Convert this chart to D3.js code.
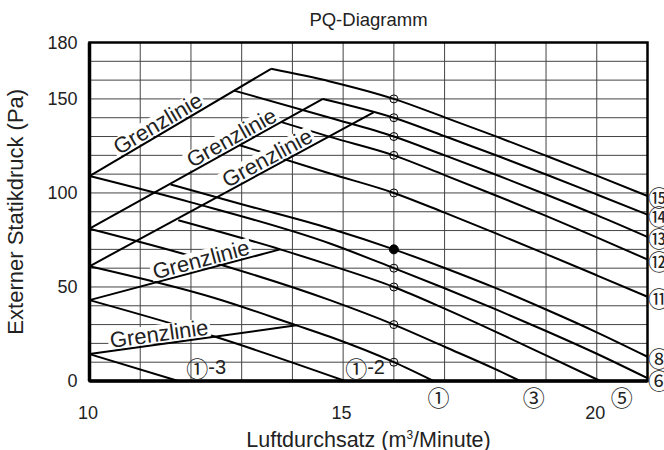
<!DOCTYPE html>
<html>
<head>
<meta charset="utf-8">
<script src="https://cdn.jsdelivr.net/npm/d3@7"></script>
<style>
    body { margin: 0; background: #fff; }
    text { font-family: "Liberation Sans", Arial, sans-serif; fill: #222; }
    .circ { font-family: "Noto Sans CJK JP", "DejaVu Sans", sans-serif; }
</style>
</head>
<body>
<div id="chart"></div>
<script>
// x = Luftdurchsatz (m3/Minute), y = Externer Statikdruck (Pa)
const xTicks = [10, 15, 20];
const yTicks = [0, 50, 100, 150, 180];

// Grenzlinien (ascending limit lines)
const limitLines = [
    [[10, 109], [13.58, 166]],
    [[10, 81], [14.6, 150]],
    [[10, 61], [15.6, 142.9]],
    [[10, 43], [13.76, 70]],
    [[10, 14.3], [14.08, 29.6]]
];
// where the "Grenzlinie" text sits along each line (x value)
const limitLabelX = [11.45, 12.9, 13.6, 12.25, 11.4];

// fan curves (tap settings)
const curveNames = ["⑮", "⑭", "⑬", "⑫", "⑪", "⑧", "⑥", "⑤", "③", "①", "①-2", "①-3"];
const curvePoints = [
    [[13.58, 166], [14.74, 159.3], [16, 150], [17, 140.2], [18, 130.2], [19, 119.8], [20, 109.2], [21, 98.4]],
    [[14.6, 150], [16, 140], [17, 130.2], [18, 120.2], [19, 109.8], [20, 99.2], [21, 88.5]],
    [[12.85, 154.4], [14.74, 140], [16, 130], [17, 120], [18, 109.8], [19, 99.2], [20, 88.2], [21, 76.6]],
    [[13.78, 137.7], [14.74, 129.8], [16, 120], [17, 109.5], [18, 98.8], [19, 87.8], [20, 76.4], [21, 64.6]],
    [[12.96, 125.4], [14.74, 110.3], [16, 100], [17, 89.5], [18, 78.6], [19, 67.5], [20, 56.2], [21, 44.8]],
    [[11.6, 104.5], [13, 94], [14.74, 81.1], [16, 70], [17, 60.1], [18, 49.5], [19, 38], [20, 25.9], [21, 12.9]],
    [[10, 109], [12, 95], [14.74, 73.1], [16, 60], [17, 49.3], [18, 38.2], [19, 26.6], [20, 14.5], [21, 1.5]],
    [[11.75, 85.5], [13.76, 70], [14.74, 61.6], [16, 50], [17, 38.5], [18, 26.3], [19, 13.6], [20.07, 0]],
    [[10, 81], [12, 66.5], [14.74, 43], [16, 30], [17, 18.2], [18, 6.3], [18.49, 0]],
    [[10, 61], [12.48, 44], [14.08, 29.6], [14.74, 23.5], [16, 10], [16.78, 0]],
    [[10, 43], [12.48, 23.5], [15.04, 0]],
    [[10, 14.3], [11.75, 0]]
];
// which side the curve label goes: right edge, below axis, or inside near the axis
const curveLabelSide = ["right", "right", "right", "right", "right", "right", "right", "bottom", "bottom", "bottom", "inside", "inside"];

// measuring points at 16 m3/min
const markerX = 16;
const markerPa = [150, 140, 130, 120, 100, 70, 60, 50, 30, 10];
const ratedPa = 70;

const margin = {top: 42.5, right: 16.5, bottom: 69, left: 89.5};
const W = 664, H = 450;
const width = W - margin.left - margin.right;
const height = H - margin.top - margin.bottom;

const svg = d3.select("#chart").append("svg")
    .attr("width", W)
    .attr("height", H);

const g = svg.append("g")
    .attr("transform", `translate(${margin.left},${margin.top})`);

const x = d3.scaleLinear().domain([10, 21]).range([0, width]);
const y = d3.scaleLinear().domain([0, 180]).range([height, 0]);

// grid
g.append("g")
    .selectAll("line")
    .data(d3.range(11, 21))
    .join("line")
    .attr("x1", d => x(d)).attr("x2", d => x(d))
    .attr("y1", 0).attr("y2", height)
    .attr("stroke", "#444").attr("stroke-width", 1);

g.append("g")
    .selectAll("line")
    .data(d3.range(10, 180, 10))
    .join("line")
    .attr("x1", 0).attr("x2", width)
    .attr("y1", d => y(d)).attr("y2", d => y(d))
    .attr("stroke", "#444").attr("stroke-width", 1);

const line = d3.line().x(d => x(d[0])).y(d => y(d[1]));
const smooth = d3.line().x(d => x(d[0])).y(d => y(d[1])).curve(d3.curveMonotoneX);

// limit lines
g.append("g")
    .selectAll("path")
    .data(limitLines)
    .join("path")
    .attr("d", line)
    .attr("fill", "none")
    .attr("stroke", "#000")
    .attr("stroke-width", 2);

// fan curves
g.append("g")
    .selectAll("path")
    .data(curvePoints)
    .join("path")
    .attr("d", smooth)
    .attr("fill", "none")
    .attr("stroke", "#000")
    .attr("stroke-width", 2);

// "Grenzlinie" labels with white backing box
const fs = 22;
limitLines.forEach((seg, i) => {
    let [p0, p1] = seg;
    let t = (limitLabelX[i] - p0[0]) / (p1[0] - p0[0]);
    let px = x(p0[0]) + t * (x(p1[0]) - x(p0[0]));
    let py = y(p0[1]) + t * (y(p1[1]) - y(p0[1]));
    let ang = Math.atan2(y(p1[1]) - y(p0[1]), x(p1[0]) - x(p0[0])) * 180 / Math.PI;

    let lab = g.append("g").attr("transform", `translate(${px},${py}) rotate(${ang})`);
    let box = lab.append("rect").attr("fill", "#fff");
    let txt = lab.append("text")
        .attr("text-anchor", "middle")
        .attr("y", -3)
        .attr("font-size", fs)
        .text("Grenzlinie");
    let w = txt.node().getComputedTextLength();
    box.attr("x", -w / 2 - 2).attr("y", -3 - fs * 0.76)
        .attr("width", w + 4).attr("height", fs * 0.76 + 1.5);
});

// measuring points
g.append("g")
    .selectAll("circle")
    .data(markerPa)
    .join("circle")
    .attr("cx", x(markerX))
    .attr("cy", d => y(d))
    .attr("r", d => d === ratedPa ? 4.5 : 4)
    .attr("fill", d => d === ratedPa ? "#000" : "none")
    .attr("stroke", "#000")
    .attr("stroke-width", 1);

// frame
g.append("rect")
    .attr("width", width).attr("height", height)
    .attr("fill", "none").attr("stroke", "#000").attr("stroke-width", 2.5);
g.append("line").attr("x1", 0).attr("x2", 0).attr("y1", 0).attr("y2", height)
    .attr("stroke", "#000").attr("stroke-width", 3.5);
g.append("line").attr("x1", 0).attr("x2", width).attr("y1", height).attr("y2", height)
    .attr("stroke", "#000").attr("stroke-width", 3.5);

// curve labels
curvePoints.forEach((pts, i) => {
    let end = pts[pts.length - 1];
    let name = curveNames[i];
    let side = curveLabelSide[i];
    let lab = g.append("text").attr("class", "circ").attr("font-size", 22)
        .attr("dominant-baseline", "central");
    if (side === "right") {
        lab.attr("x", x(end[0]) + 0.5).attr("y", y(end[1]) + 0.5).text(name);
    } else if (side === "bottom") {
        lab.attr("x", x(end[0]) + 5 + (end[0] - 16.78) * 5).attr("y", height + 15)
            .attr("text-anchor", "middle").text(name);
    } else {
        let c = name.slice(0, 1), rest = name.slice(1);
        lab.attr("x", x(end[0]) + (i === 10 ? 0 : 8)).attr("y", height - 14);
        lab.append("tspan").text(c);
        lab.append("tspan")
            .style("font-family", "'Liberation Sans', Arial, sans-serif")
            .attr("font-size", 20).text(rest);
    }
});

// axes tick labels
g.append("g")
    .selectAll("text")
    .data(xTicks)
    .join("text")
    .attr("x", d => x(d) - 1.5)
    .attr("y", height + 38)
    .attr("text-anchor", "middle")
    .attr("font-size", 18)
    .text(d => d);

g.append("g")
    .selectAll("text")
    .data(yTicks)
    .join("text")
    .attr("x", -12)
    .attr("y", d => y(d))
    .attr("dy", "0.35em")
    .attr("text-anchor", "end")
    .attr("font-size", 18)
    .text(d => d);

// titles
svg.append("text")
    .attr("x", margin.left + width / 2)
    .attr("y", 26)
    .attr("text-anchor", "middle")
    .attr("font-size", 18.5)
    .text("PQ-Diagramm");

let xl = svg.append("text")
    .attr("x", margin.left + width / 2)
    .attr("y", 447)
    .attr("text-anchor", "middle")
    .attr("font-size", 21.5);
xl.append("tspan").text("Luftdurchsatz (m");
xl.append("tspan").attr("font-size", 12).attr("dy", -8).text("3");
xl.append("tspan").attr("dy", 8).text("/Minute)");

svg.append("text")
    .attr("transform", `translate(23,${margin.top + height / 2}) rotate(-90)`)
    .attr("text-anchor", "middle")
    .attr("font-size", 22)
    .text("Externer Statikdruck (Pa)");
</script>
</body>
</html>
